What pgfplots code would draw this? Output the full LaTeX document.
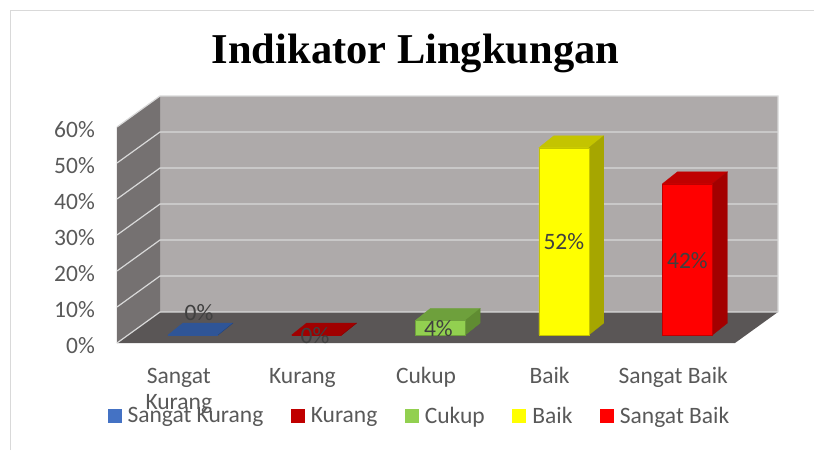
\documentclass[border=0pt]{standalone}
\usepackage{pgfplots}
\pgfplotsset{compat=1.18}
\usepackage{fontspec}
\setmainfont{Carlito}
\newfontfamily\titlefont{Liberation Serif}

\definecolor{backwall}{RGB}{174,170,170}
\definecolor{sidewall}{RGB}{117,113,113}
\definecolor{floorc}{RGB}{90,86,86}
\definecolor{gridc}{RGB}{217,217,217}
\definecolor{framec}{RGB}{217,217,217}
\definecolor{txt}{RGB}{89,89,89}
\definecolor{lbl}{RGB}{64,64,64}
\definecolor{skfront}{RGB}{68,114,196}
\definecolor{sktop}{RGB}{47,85,151}
\definecolor{skside}{RGB}{38,68,120}
\definecolor{kfront}{RGB}{192,0,0}
\definecolor{ktop}{RGB}{160,0,0}
\definecolor{kside}{RGB}{130,0,0}
\definecolor{cfront}{RGB}{146,208,80}
\definecolor{ctop}{RGB}{110,160,60}
\definecolor{cside}{RGB}{96,140,50}
\definecolor{bfront}{RGB}{255,255,0}
\definecolor{btop}{RGB}{196,196,0}
\definecolor{bside}{RGB}{166,166,0}
\definecolor{sbfront}{RGB}{255,0,0}
\definecolor{sbtop}{RGB}{191,0,0}
\definecolor{sbside}{RGB}{163,0,0}

\pgfplotsset{sqleg/.style={legend image code/.code={\fill[##1] (0pt,-7pt) rectangle (14pt,7pt);}}}

% #1 category index, #2 value (%), #3 front, #4 top, #5 side colour
\newcommand{\threedbar}[5]{%
  \pgfmathsetmacro{\xl}{#1+0.4126}%
  \pgfmathsetmacro{\xr}{#1+0.8171}%
  \pgfmathsetmacro{\xlb}{#1+0.4126+0.1214}%
  \pgfmathsetmacro{\xrb}{#1+0.8171+0.1214}%
  \pgfmathsetmacro{\yb}{2.22}%
  \pgfmathsetmacro{\yt}{2.22+#2}%
  \pgfmathsetmacro{\ybb}{5.55}%
  \pgfmathsetmacro{\ytb}{5.55+#2}%
  \addplot[fill=#4, draw=#4, line width=0.3pt, forget plot] coordinates {(\xl,\yt) (\xr,\yt) (\xrb,\ytb) (\xlb,\ytb) (\xl,\yt)};
  \addplot[fill=#5, draw=#5, line width=0.3pt, forget plot] coordinates {(\xr,\yb) (\xrb,\ybb) (\xrb,\ytb) (\xr,\yt) (\xr,\yb)};
  \addplot[fill=#3, draw=#4, line width=0.4pt, forget plot] coordinates {(\xl,\yb) (\xr,\yb) (\xr,\yt) (\xl,\yt) (\xl,\yb)};
}

\begin{document}
\begin{tikzpicture}
\path[use as bounding box] (0pt,0pt) rectangle (814pt,-450pt);
\draw[framec, line width=1pt] (10.5pt,-450pt) -- (10.5pt,-10.5pt) -- (814pt,-10.5pt);
\begin{axis}[
  at={(117pt,-343pt)}, anchor=south west,
  x=123.6pt, y=3.6pt,
  xmin=0, xmax=5.348, ymin=0, ymax=68.61,
  clip=false,
  axis line style={draw=none},
  major tick length=0pt, tick style={draw=none},
  ytick={0,10,20,30,40,50,60},
  yticklabels={0\%,10\%,20\%,30\%,40\%,50\%,60\%},
  yticklabel style={anchor=east, inner sep=0pt, xshift=-22pt, yshift=-3pt,
    font=\fontsize{23.5}{26}\selectfont, text=txt},
  xtick={0.5,1.5,2.5,3.5,4.5},
  xticklabels={{\strut Sangat\\\strut Kurang},{\strut Kurang},{\strut Cukup},{\strut Baik},{\strut Sangat Baik}},
  xticklabel style={anchor=north, inner sep=0pt, yshift=-21.8pt, align=center,
    font=\fontsize{23.5}{26}\selectfont, text=txt},
  title={Indikator Lingkungan},
  title style={at={(0.4516,1.1053)}, anchor=base, inner sep=0pt,
    font=\titlefont\bfseries\fontsize{42.5}{50}\selectfont, text=black},
  legend columns=5,
  legend style={at={(0.456,-0.2955)}, anchor=center, draw=none, fill=none,
    font=\fontsize{23.5}{26}\selectfont, text=txt,
    nodes={inner sep=0pt},
    /tikz/every odd column/.append style={column sep=6pt},
    /tikz/every even column/.append style={column sep=27.5pt}},
]
% walls and floor
\addplot[fill=backwall, draw=none, forget plot] coordinates {(0.348,8.61) (5.348,8.61) (5.348,68.61) (0.348,68.61) (0.348,8.61)};
\addplot[fill=sidewall, draw=none, forget plot] coordinates {(0,0) (0.348,8.61) (0.348,68.61) (0,60) (0,0)};
\addplot[fill=floorc, draw=none, forget plot] coordinates {(0,0) (5,0) (5.348,8.61) (0.348,8.61) (0,0)};
% gridlines on side and back walls
\addplot[gridc, line width=1.2pt, forget plot] coordinates {(0,0) (0.348,8.61) (5.348,8.61)};
\addplot[gridc, line width=1.2pt, forget plot] coordinates {(0,10) (0.348,18.61) (5.348,18.61)};
\addplot[gridc, line width=1.2pt, forget plot] coordinates {(0,20) (0.348,28.61) (5.348,28.61)};
\addplot[gridc, line width=1.2pt, forget plot] coordinates {(0,30) (0.348,38.61) (5.348,38.61)};
\addplot[gridc, line width=1.2pt, forget plot] coordinates {(0,40) (0.348,48.61) (5.348,48.61)};
\addplot[gridc, line width=1.2pt, forget plot] coordinates {(0,50) (0.348,58.61) (5.348,58.61)};
\addplot[gridc, line width=1.2pt, forget plot] coordinates {(0,60) (0.348,68.61) (5.348,68.61) (5.348,8.61)};
% bars: index, value
\threedbar{0}{0}{skfront}{sktop}{skside}
\threedbar{1}{0}{kfront}{ktop}{kside}
\threedbar{2}{4}{cfront}{ctop}{cside}
\threedbar{3}{52}{bfront}{btop}{bside}
\threedbar{4}{42}{sbfront}{sbtop}{sbside}
% data labels
\node[font=\fontsize{23.5}{26}\selectfont, text=lbl] at (axis cs:0.663,8.33) {0\%};
\node[font=\fontsize{23.5}{26}\selectfont, text=lbl] at (axis cs:1.602,2.2) {0\%};
\node[font=\fontsize{23.5}{26}\selectfont, text=lbl] at (axis cs:2.600,4.0) {4\%};
\node[font=\fontsize{23.5}{26}\selectfont, text=lbl] at (axis cs:3.615,28.3) {52\%};
\node[font=\fontsize{23.5}{26}\selectfont, text=lbl] at (axis cs:4.615,22.9) {42\%};
% legend
\addlegendimage{sqleg, fill=skfront, draw=none}
\addlegendentry{Sangat Kurang}
\addlegendimage{sqleg, fill=kfront, draw=none}
\addlegendentry{Kurang}
\addlegendimage{sqleg, fill=cfront, draw=none}
\addlegendentry{Cukup}
\addlegendimage{sqleg, fill=bfront, draw=none}
\addlegendentry{Baik}
\addlegendimage{sqleg, fill=sbfront, draw=none}
\addlegendentry{Sangat Baik}
\end{axis}
\end{tikzpicture}
\end{document}
